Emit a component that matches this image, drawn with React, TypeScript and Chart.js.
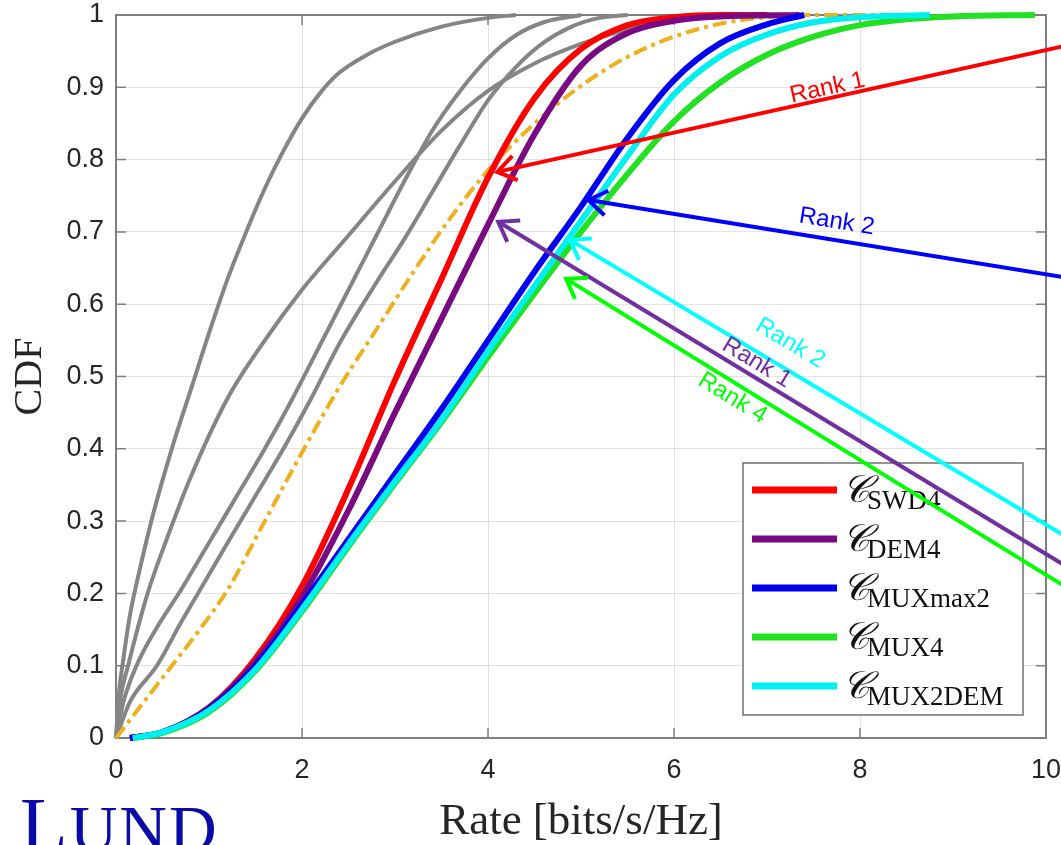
import React, { useEffect, useRef } from "react";
import { Chart, registerables } from "chart.js";

Chart.register(...registerables);

// ---------------- data ----------------
const xTickValues = [0, 2, 4, 6, 8, 10];
const yTickValues = [0, 0.1, 0.2, 0.3, 0.4, 0.5, 0.6, 0.7, 0.8, 0.9, 1];

// grey reference curves
const rateGray1 = [0, 0.03, 0.08, 0.15, 0.25, 0.4, 0.6, 0.8, 1.0, 1.2, 1.4, 1.6, 1.8, 2.0, 2.2, 2.4, 2.7, 3.0, 3.5, 4.0, 4.3];
const cdfGray1 = [0, 0.06, 0.11, 0.17, 0.23, 0.31, 0.4, 0.48, 0.56, 0.635, 0.7, 0.76, 0.812, 0.857, 0.893, 0.92, 0.945, 0.963, 0.984, 0.996, 1];

const rateGray2 = [0, 0.04, 0.13, 0.34, 0.56, 0.8, 1.2, 1.6, 2.0, 2.5, 3.0, 3.5, 4.0, 4.5, 5.0, 5.5, 6.0, 6.4];
const cdfGray2 = [0, 0.05, 0.1, 0.2, 0.28, 0.36, 0.47, 0.55, 0.62, 0.695, 0.77, 0.84, 0.895, 0.933, 0.96, 0.98, 0.993, 1];

const rateGray3 = [0, 0.08, 0.22, 0.45, 0.7, 1.0, 1.3, 1.6, 1.9, 2.2, 2.5, 2.8, 3.1, 3.4, 3.7, 4.0, 4.3, 4.6, 5.0];
const cdfGray3 = [0, 0.05, 0.1, 0.155, 0.205, 0.27, 0.335, 0.4, 0.47, 0.545, 0.62, 0.695, 0.77, 0.84, 0.895, 0.94, 0.972, 0.99, 1];

const rateGray4 = [0, 0.15, 0.44, 0.7, 0.95, 1.2, 1.5, 1.8, 2.1, 2.4, 2.8, 3.1, 3.4, 3.7, 4.0, 4.3, 4.6, 4.9, 5.2, 5.5];
const cdfGray4 = [0, 0.05, 0.1, 0.16, 0.215, 0.27, 0.335, 0.4, 0.47, 0.545, 0.63, 0.69, 0.755, 0.82, 0.882, 0.928, 0.962, 0.984, 0.996, 1];

// orange dash-dot curve
const rateOrange = [0, 0.3, 0.6, 0.9, 1.2, 1.6, 2.0, 2.4, 2.8, 3.2, 3.6, 4.0, 4.5, 5.0, 5.5, 6.0, 6.5, 7.0, 7.5, 8.6];
const cdfOrange = [0, 0.05, 0.1, 0.15, 0.205, 0.3, 0.395, 0.485, 0.565, 0.645, 0.72, 0.785, 0.85, 0.902, 0.942, 0.97, 0.988, 0.997, 1, 1];

// legend series
const rateSWD4 = [0.15, 0.5, 1.0, 1.5, 2.0, 2.5, 3.0, 3.5, 4.0, 4.5, 5.0, 5.5, 6.0, 6.5, 7.0];
const cdfSWD4 = [0, 0.008, 0.042, 0.11, 0.21, 0.345, 0.495, 0.635, 0.775, 0.885, 0.953, 0.986, 0.997, 1, 1];

const rateDEM4 = [0.15, 0.5, 1.0, 1.5, 2.0, 2.5, 3.0, 3.5, 4.0, 4.5, 5.0, 5.5, 6.0, 6.5, 7.35];
const cdfDEM4 = [0, 0.008, 0.042, 0.105, 0.195, 0.315, 0.45, 0.58, 0.71, 0.835, 0.93, 0.975, 0.992, 0.998, 1];

const rateMUXmax2 = [0.15, 0.5, 1.0, 1.5, 2.0, 2.5, 3.0, 3.5, 4.0, 4.5, 5.0, 5.5, 6.0, 6.5, 7.0, 7.4];
const cdfMUXmax2 = [0, 0.008, 0.04, 0.1, 0.185, 0.275, 0.365, 0.455, 0.55, 0.645, 0.735, 0.83, 0.91, 0.961, 0.987, 1];

const rateMUX4 = [0.2, 0.5, 1.0, 1.5, 2.0, 2.5, 3.0, 3.5, 4.0, 4.5, 5.0, 5.5, 6.0, 6.5, 7.0, 7.5, 8.0, 8.5, 9.0, 9.88];
const cdfMUX4 = [0, 0.007, 0.036, 0.093, 0.175, 0.265, 0.352, 0.437, 0.527, 0.615, 0.7, 0.78, 0.853, 0.907, 0.945, 0.97, 0.986, 0.994, 0.998, 1];

const rateMUX2DEM = [0.18, 0.5, 1.0, 1.5, 2.0, 2.5, 3.0, 3.5, 4.0, 4.5, 5.0, 5.5, 6.0, 6.5, 7.0, 7.5, 8.0, 8.75];
const cdfMUX2DEM = [0, 0.008, 0.038, 0.095, 0.178, 0.268, 0.355, 0.44, 0.535, 0.625, 0.715, 0.805, 0.89, 0.943, 0.973, 0.99, 0.997, 1];

const legendSubscripts = ["SWD4", "DEM4", "MUXmax2", "MUX4", "MUX2DEM"];

// annotation arrows (data coordinates)
const arrowTexts = ["Rank 1", "Rank 2", "Rank 2", "Rank 1", "Rank 4"];
const arrowHeadX = [4.1, 5.08, 4.88, 4.11, 4.84];
const arrowHeadY = [0.783, 0.744, 0.689, 0.714, 0.635];
const arrowTailX = [10.3, 10.3, 10.3, 10.3, 10.3];
const arrowTailY = [0.96, 0.635, 0.272, 0.231, 0.202];
const arrowLabelX = [7.65, 7.75, 7.25, 6.89, 6.63];
const arrowLabelY = [0.899, 0.714, 0.546, 0.519, 0.47];

const xTitle = "Rate [bits/s/Hz]";
const yTitle = "CDF";
const logoText = ["L", "UND"];

// ---------------- styles ----------------
const W = 1061;
const H = 845;
const GRAY = "#858585";
const AXIS = "#7f7f7f";
const TICK_TEXT = "#262626";
const seriesColors = ["#FF0000", "#7A0A82", "#0000F0", "#22E022", "#00F0F0"];
const arrowColors = ["#FF0000", "#0000FF", "#00FFFF", "#7030A0", "#00FF00"];

function pts(xs: number[], ys: number[]) {
  return xs.map((x, i) => ({ x, y: ys[i] }));
}

const framePlugin = {
  id: "frame",
  beforeDatasetsDraw(chart: any) {
    const { ctx, chartArea: a, scales } = chart;
    ctx.save();
    ctx.strokeStyle = AXIS;
    ctx.lineWidth = 2;
    ctx.strokeRect(a.left, a.top, a.right - a.left, a.bottom - a.top);
    ctx.lineWidth = 1.5;
    const tl = 10;
    ctx.beginPath();
    xTickValues.forEach((v) => {
      const px = scales.x.getPixelForValue(v);
      ctx.moveTo(px, a.bottom);
      ctx.lineTo(px, a.bottom - tl);
      ctx.moveTo(px, a.top);
      ctx.lineTo(px, a.top + tl);
    });
    yTickValues.forEach((v) => {
      const py = scales.y.getPixelForValue(v);
      ctx.moveTo(a.left, py);
      ctx.lineTo(a.left + tl, py);
      ctx.moveTo(a.right, py);
      ctx.lineTo(a.right - tl, py);
    });
    ctx.stroke();
    ctx.restore();
  },
  afterDraw(chart: any) {
    const { ctx, chartArea: a, scales } = chart;
    // ---- legend ----
    ctx.save();
    const bw = 280;
    const bh = 252;
    const bx = a.right - 23 - bw;
    const by = a.bottom - 23 - bh;
    ctx.fillStyle = "#ffffff";
    ctx.fillRect(bx, by, bw, bh);
    ctx.strokeStyle = "#707070";
    ctx.lineWidth = 1.5;
    ctx.strokeRect(bx, by, bw, bh);
    legendSubscripts.forEach((name, i) => {
      const cy = by + 27 + i * 49;
      ctx.strokeStyle = seriesColors[i];
      ctx.lineWidth = 7;
      ctx.lineCap = "butt";
      ctx.beginPath();
      ctx.moveTo(bx + 9, cy);
      ctx.lineTo(bx + 94, cy);
      ctx.stroke();
      ctx.fillStyle = "#111111";
      ctx.textAlign = "left";
      ctx.textBaseline = "alphabetic";
      ctx.font = 'italic 38px "DejaVu Serif"';
      ctx.fillText("\u{1D49E}", bx + 99, cy + 12);
      const cw = ctx.measureText("\u{1D49E}").width;
      ctx.font = '27px "Liberation Serif"';
      ctx.fillText(name, bx + 99 + cw - 3, cy + 19);
    });
    ctx.restore();

    // ---- arrows ----
    ctx.save();
    arrowTexts.forEach((txt, i) => {
      const hx = scales.x.getPixelForValue(arrowHeadX[i]);
      const hy = scales.y.getPixelForValue(arrowHeadY[i]);
      const tx = scales.x.getPixelForValue(arrowTailX[i]);
      const ty = scales.y.getPixelForValue(arrowTailY[i]);
      const col = arrowColors[i];
      ctx.strokeStyle = col;
      ctx.lineWidth = 4;
      ctx.lineCap = "butt";
      ctx.lineJoin = "miter";
      ctx.beginPath();
      ctx.moveTo(tx, ty);
      ctx.lineTo(hx, hy);
      ctx.stroke();
      const ang = Math.atan2(ty - hy, tx - hx);
      const L = 22;
      const sp = 0.6;
      ctx.beginPath();
      ctx.moveTo(hx + L * Math.cos(ang + sp), hy + L * Math.sin(ang + sp));
      ctx.lineTo(hx, hy);
      ctx.lineTo(hx + L * Math.cos(ang - sp), hy + L * Math.sin(ang - sp));
      ctx.stroke();
      const lx = scales.x.getPixelForValue(arrowLabelX[i]);
      const ly = scales.y.getPixelForValue(arrowLabelY[i]);
      ctx.save();
      ctx.translate(lx, ly);
      ctx.rotate(ang);
      ctx.fillStyle = col;
      ctx.font = '24px "Liberation Sans"';
      ctx.textAlign = "center";
      ctx.textBaseline = "middle";
      ctx.fillText(txt, 0, 0);
      ctx.restore();
    });
    ctx.restore();

    // ---- logo ----
    ctx.save();
    ctx.fillStyle = "#0a0aa6";
    ctx.textBaseline = "alphabetic";
    ctx.textAlign = "left";
    ctx.font = '78px "Liberation Serif"';
    ctx.fillText(logoText[0], 20, 851);
    const lw = ctx.measureText(logoText[0]).width;
    ctx.font = '66px "Liberation Serif"';
    (ctx as any).letterSpacing = "2px";
    ctx.fillText(logoText[1], 20 + lw + 2, 851);
    ctx.restore();
  },
};

export default function App() {
  const ref = useRef<HTMLCanvasElement | null>(null);

  useEffect(() => {
    document.body.style.margin = "0";
    const canvas = ref.current;
    if (!canvas) return;
    const mk = (label: string, xs: number[], ys: number[], color: string, width: number, order: number, dash?: number[]) => ({
      label,
      data: pts(xs, ys),
      borderColor: color,
      backgroundColor: color,
      borderWidth: width,
      borderDash: dash || [],
      pointRadius: 0,
      fill: false,
      tension: 0.4,
      cubicInterpolationMode: "monotone" as const,
      clip: false as const,
      order,
    });
    const chart = new Chart(canvas, {
      type: "line",
      data: {
        datasets: [
          mk("gray1", rateGray1, cdfGray1, GRAY, 4, 7),
          mk("gray2", rateGray2, cdfGray2, GRAY, 4, 7),
          mk("gray3", rateGray3, cdfGray3, GRAY, 4, 7),
          mk("gray4", rateGray4, cdfGray4, GRAY, 4, 7),
          mk("orange", rateOrange, cdfOrange, "#EDB120", 4, 6, [14, 5, 4, 5]),
          mk("SWD4", rateSWD4, cdfSWD4, seriesColors[0], 6, 5),
          mk("DEM4", rateDEM4, cdfDEM4, seriesColors[1], 6, 4),
          mk("MUXmax2", rateMUXmax2, cdfMUXmax2, seriesColors[2], 6, 3),
          mk("MUX4", rateMUX4, cdfMUX4, seriesColors[3], 6, 2),
          mk("MUX2DEM", rateMUX2DEM, cdfMUX2DEM, seriesColors[4], 6, 1),
        ],
      },
      options: {
        animation: false,
        responsive: false,
        devicePixelRatio: 1,
        events: [],
        layout: { autoPadding: false, padding: { left: 0, top: 15, right: 15, bottom: 0 } },
        plugins: { legend: { display: false }, tooltip: { enabled: false } },
        scales: {
          x: {
            type: "linear",
            min: 0,
            max: 10,
            afterFit: (s: any) => {
              s.height = 107;
              s.paddingLeft = 0;
              s.paddingRight = 0;
            },
            afterBuildTicks: (s: any) => {
              s.ticks = xTickValues.map((v) => ({ value: v }));
            },
            ticks: {
              font: { family: "Liberation Sans", size: 27 },
              color: TICK_TEXT,
              padding: 16,
              maxRotation: 0,
              autoSkip: false,
              callback: (v: any) => String(v),
            },
            grid: { color: "rgba(0,0,0,0.11)", drawTicks: false, lineWidth: 1 },
            border: { display: false },
            title: {
              display: true,
              text: xTitle,
              color: "#262626",
              font: { family: "Liberation Serif", size: 45, lineHeight: 1 },
              padding: { top: 0, bottom: 0 },
            },
          },
          y: {
            type: "linear",
            min: 0,
            max: 1,
            afterFit: (s: any) => {
              s.width = 116;
              s.paddingTop = 0;
              s.paddingBottom = 0;
            },
            afterBuildTicks: (s: any) => {
              s.ticks = yTickValues.map((v) => ({ value: v }));
            },
            ticks: {
              font: { family: "Liberation Sans", size: 27 },
              color: TICK_TEXT,
              padding: 12,
              autoSkip: false,
              callback: (v: any) => String(v),
            },
            grid: { color: "rgba(0,0,0,0.11)", drawTicks: false, lineWidth: 1 },
            border: { display: false },
            title: {
              display: true,
              text: yTitle,
              color: "#262626",
              font: { family: "Liberation Serif", size: 40, lineHeight: 1 },
              padding: { top: 10, bottom: 0 },
            },
          },
        },
      },
      plugins: [framePlugin],
    } as any);
    return () => chart.destroy();
  }, []);

  return (
    <div style={{ width: W, height: H, background: "#ffffff", overflow: "hidden" }}>
      <canvas ref={ref} width={W} height={H} style={{ display: "block", width: W, height: H }} />
    </div>
  );
}
